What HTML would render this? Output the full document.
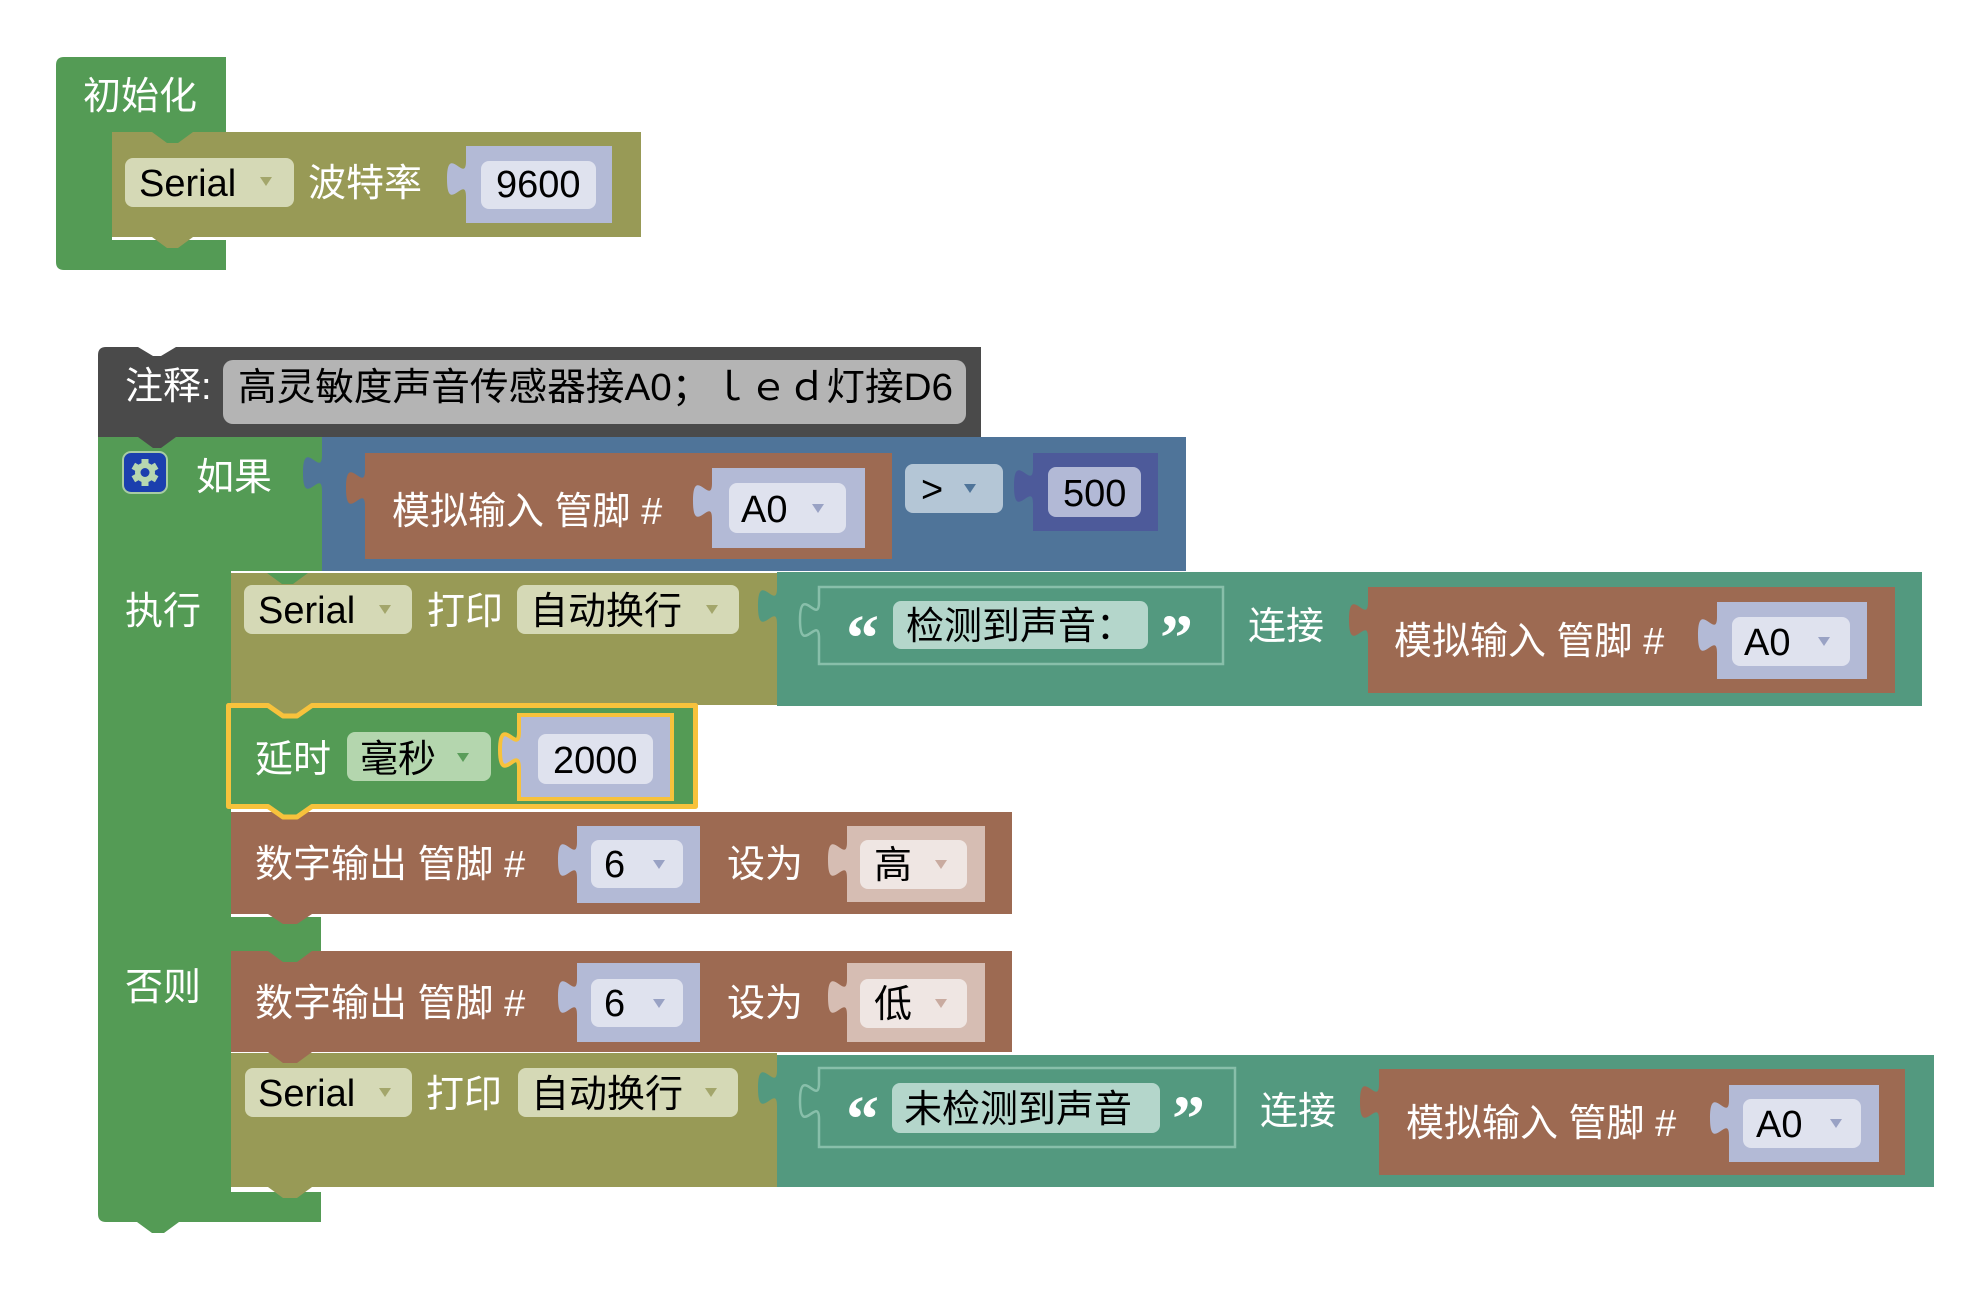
<!DOCTYPE html>
<html><head><meta charset="utf-8">
<style>
html,body{margin:0;padding:0;background:#fff;}
svg{display:block;}
text{font-family:"Liberation Sans","Noto Sans CJK SC",sans-serif;font-size:38px;}
.w{fill:#ffffff;}
.k{fill:#000000;}
.q{font-family:"Liberation Serif",serif;font-weight:bold;font-size:66px;fill:#ffffff;}
</style></head><body>
<svg width="1976" height="1312" viewBox="0 0 1976 1312" xmlns="http://www.w3.org/2000/svg">
<rect x="0" y="0" width="1976" height="1312" fill="#ffffff"/>

<!-- ============ INIT BLOCK ============ -->
<path d="M64,57 H226 V132 H112 V240 H226 V270 H64 Q56,270 56,262 V65 Q56,57 64,57 Z" fill="#549b55"/>
<rect x="112" y="132" width="529" height="105" fill="#989a56"/>
<polygon points="152,132 167,143 178,143 193,132" fill="#549b55"/>
<polygon points="152,237 167,248 178,248 193,237" fill="#989a56"/>
<text x="83" y="109" class="w">初始化</text>
<rect x="125" y="158" width="169" height="49" rx="8" fill="#d5d9b6"/>
<text x="139" y="196" class="k">Serial</text>
<polygon points="260,177 272,177 266,186" fill="#a3a66b"/>
<text x="308" y="196" class="w">波特率</text>
<path d="M466,146 V161 c0,24 -19,-19 -19,18 s19,-6 19,18 V223 H612 V146 Z" fill="#b3bad6"/>
<rect x="481" y="161" width="115" height="48" rx="8" fill="#dfe2ee"/>
<text x="496" y="197" class="k">9600</text>

<!-- ============ IF BLOCK (green) ============ -->
<path d="M98,437 H322 V571 H231 V917 H321 V951 H231 V1192 H321 V1222 H106 Q98,1222 98,1214 Z" fill="#549b55"/>
<polygon points="137,1222 152,1233 164,1233 179,1222" fill="#549b55"/>

<!-- ============ COMMENT ============ -->
<path d="M98,355 Q98,347 106,347 H138 L153,356 L161,356 L176,347 H981 V437 H98 Z" fill="#4a4a4a"/>
<polygon points="138,437 153,448 161,448 176,437" fill="#4a4a4a"/>
<text x="125" y="399" class="w">注释:</text>
<rect x="223" y="360" width="743" height="64" rx="10" fill="#b4b4b4"/>
<text x="238" y="400" class="k" textLength="715" lengthAdjust="spacingAndGlyphs">高灵敏度声音传感器接A0；ｌｅｄ灯接D6</text>

<!-- gear icon -->
<rect x="123" y="452" width="44" height="41" rx="8" fill="#1b3fae" stroke="#a8cca3" stroke-width="2"/>
<g fill="#b7d7b0">
  <circle cx="145" cy="472.5" r="10"/>
  <rect x="141.5" y="459" width="7" height="27"/>
  <rect x="141.5" y="459" width="7" height="27" transform="rotate(60 145 472.5)"/>
  <rect x="141.5" y="459" width="7" height="27" transform="rotate(120 145 472.5)"/>
</g>
<circle cx="145" cy="472.5" r="4.5" fill="#1b3fae"/>
<text x="196" y="490" class="w">如果</text>

<!-- condition (blue) -->
<path d="M322,437 V455 c0,24 -19,-19 -19,18 s19,-6 19,18 V571 H1186 V437 Z" fill="#4f7499"/>
<path d="M365,453 V470 c0,24 -19,-19 -19,18 s19,-6 19,18 V559 H892 V453 Z" fill="#9d6a52"/>
<text x="392" y="524" class="w">模拟输入 管脚 #</text>
<path d="M712,468 V483 c0,24 -19,-19 -19,18 s19,-6 19,18 V548 H865 V468 Z" fill="#b3bad6"/>
<rect x="729" y="483" width="117" height="50" rx="8" fill="#dfe2ee"/>
<text x="741" y="522" class="k">A0</text>
<polygon points="812,504 824,504 818,513" fill="#99a2c4"/>
<rect x="905" y="464" width="98" height="49" rx="8" fill="#b4c6d6"/>
<text x="921" y="502" class="k">&gt;</text>
<polygon points="964,484 976,484 970,493" fill="#4f7499"/>
<path d="M1033,453 V468 c0,24 -19,-19 -19,18 s19,-6 19,18 V531 H1158 V453 Z" fill="#4d5a9a"/>
<rect x="1048" y="467" width="93" height="50" rx="8" fill="#b2b9d6"/>
<text x="1063" y="506" class="k">500</text>

<!-- ============ EXECUTE ============ -->
<text x="125" y="624" class="w">执行</text>
<rect x="231" y="573" width="546" height="132" fill="#989a56"/>
<polygon points="267,573 282,584 293,584 308,573" fill="#549b55"/>
<rect x="244" y="585" width="168" height="49" rx="8" fill="#d5d9b6"/>
<text x="258" y="623" class="k">Serial</text>
<polygon points="379,605 391,605 385,614" fill="#a3a66b"/>
<text x="427" y="624" class="w">打印</text>
<rect x="517" y="585" width="222" height="49" rx="8" fill="#d5d9b6"/>
<text x="530" y="624" class="k">自动换行</text>
<polygon points="706,605 718,605 712,614" fill="#a3a66b"/>

<path d="M777,572 V588 c0,24 -19,-19 -19,18 s19,-6 19,18 V706 H1922 V572 Z" fill="#53997f"/>
<path d="M819,587 V602 c0,24 -19,-19 -19,18 s19,-6 19,18 V664 H1223 V587 Z" fill="#53997f" stroke="#88bfaa" stroke-width="2.5"/>
<text x="846" y="660" class="q">“</text>
<rect x="893" y="601" width="255" height="48" rx="8" fill="#b4d6cb"/>
<text x="906" y="639" class="k">检测到声音：</text>
<text x="1160" y="660" class="q">”</text>
<text x="1248" y="639" class="w">连接</text>
<path d="M1368,587 V602 c0,24 -19,-19 -19,18 s19,-6 19,18 V693 H1895 V587 Z" fill="#9d6a52"/>
<text x="1394" y="654" class="w">模拟输入 管脚 #</text>
<path d="M1717,602 V617 c0,24 -19,-19 -19,18 s19,-6 19,18 V679 H1867 V602 Z" fill="#b3bad6"/>
<rect x="1732" y="617" width="118" height="49" rx="8" fill="#dfe2ee"/>
<text x="1744" y="655" class="k">A0</text>
<polygon points="1818,637 1830,637 1824,646" fill="#99a2c4"/>

<!-- digital out 1 (drawn before delay so delay tab overlaps) -->
<rect x="231" y="812" width="781" height="102" fill="#9d6a52"/>
<polygon points="268,914 283,924 297,924 312,914" fill="#9d6a52"/>

<!-- delay (selected) -->
<polygon points="268,705 283,716 297,716 312,705" fill="#989a56"/>
<path d="M228.5,705.5 H268 L283,716 L297,716 L312,705.5 H695.5 V806.5 H312 L297,817 L283,817 L268,806.5 H228.5 Z" fill="#549b55" stroke="#f7c23c" stroke-width="5" stroke-linejoin="round"/>
<text x="255" y="772" class="w">延时</text>
<rect x="347" y="732" width="144" height="49" rx="8" fill="#b4d6ae"/>
<text x="360" y="772" class="k">毫秒</text>
<polygon points="457,753 469,753 463,762" fill="#5a9d5a"/>
<path d="M519,715 V732 c0,24 -19,-19 -19,18 s19,-6 19,18 V799 H672 V715 Z" fill="#b3bad6" stroke="#f7c23c" stroke-width="4"/>
<rect x="538" y="734" width="115" height="50" rx="8" fill="#dfe2ee"/>
<text x="553" y="773" class="k">2000</text>

<!-- digital out 1 content -->
<text x="255" y="877" class="w">数字输出 管脚 #</text>
<path d="M577,826 V842 c0,24 -19,-19 -19,18 s19,-6 19,18 V903 H700 V826 Z" fill="#b3bad6"/>
<rect x="591" y="840" width="92" height="48" rx="8" fill="#dfe2ee"/>
<text x="604" y="877" class="k">6</text>
<polygon points="653,860 665,860 659,869" fill="#99a2c4"/>
<text x="727" y="877" class="w">设为</text>
<path d="M847,826 V842 c0,24 -19,-19 -19,18 s19,-6 19,18 V902 H985 V826 Z" fill="#d6bdb3"/>
<rect x="860" y="840" width="107" height="49" rx="8" fill="#efe6e3"/>
<text x="874" y="878" class="k">高</text>
<polygon points="935,860 947,860 941,869" fill="#c9aba0"/>

<!-- ============ ELSE ============ -->
<text x="125" y="1000" class="w">否则</text>
<rect x="231" y="951" width="781" height="101" fill="#9d6a52"/>
<polygon points="268,951 283,962 297,962 312,951" fill="#549b55"/>
<text x="255" y="1016" class="w">数字输出 管脚 #</text>
<path d="M577,963 V979 c0,24 -19,-19 -19,18 s19,-6 19,18 V1042 H700 V963 Z" fill="#b3bad6"/>
<rect x="591" y="979" width="92" height="48" rx="8" fill="#dfe2ee"/>
<text x="604" y="1016" class="k">6</text>
<polygon points="653,999 665,999 659,1008" fill="#99a2c4"/>
<text x="727" y="1016" class="w">设为</text>
<path d="M847,963 V979 c0,24 -19,-19 -19,18 s19,-6 19,18 V1042 H985 V963 Z" fill="#d6bdb3"/>
<rect x="860" y="979" width="107" height="49" rx="8" fill="#efe6e3"/>
<text x="874" y="1017" class="k">低</text>
<polygon points="935,999 947,999 941,1008" fill="#c9aba0"/>

<!-- serial print 2 -->
<rect x="231" y="1053" width="546" height="134" fill="#989a56"/>
<polygon points="268,1052 283,1063 297,1063 312,1052" fill="#9d6a52"/>
<polygon points="268,1187 283,1198 297,1198 312,1187" fill="#989a56"/>
<rect x="245" y="1068" width="167" height="49" rx="8" fill="#d5d9b6"/>
<text x="258" y="1106" class="k">Serial</text>
<polygon points="379,1088 391,1088 385,1097" fill="#a3a66b"/>
<text x="426" y="1107" class="w">打印</text>
<rect x="518" y="1068" width="220" height="49" rx="8" fill="#d5d9b6"/>
<text x="531" y="1107" class="k">自动换行</text>
<polygon points="705,1088 717,1088 711,1097" fill="#a3a66b"/>

<path d="M777,1055 V1070 c0,24 -19,-19 -19,18 s19,-6 19,18 V1187 H1934 V1055 Z" fill="#53997f"/>
<path d="M819,1068 V1083 c0,24 -19,-19 -19,18 s19,-6 19,18 V1147 H1235 V1068 Z" fill="#53997f" stroke="#88bfaa" stroke-width="2.5"/>
<text x="846" y="1141" class="q">“</text>
<rect x="892" y="1083" width="268" height="50" rx="8" fill="#b4d6cb"/>
<text x="904" y="1122" class="k">未检测到声音</text>
<text x="1172" y="1141" class="q">”</text>
<text x="1260" y="1124" class="w">连接</text>
<path d="M1379,1069 V1084 c0,24 -19,-19 -19,18 s19,-6 19,18 V1175 H1905 V1069 Z" fill="#9d6a52"/>
<text x="1406" y="1136" class="w">模拟输入 管脚 #</text>
<path d="M1729,1085 V1100 c0,24 -19,-19 -19,18 s19,-6 19,18 V1162 H1879 V1085 Z" fill="#b3bad6"/>
<rect x="1743" y="1099" width="118" height="49" rx="8" fill="#dfe2ee"/>
<text x="1756" y="1137" class="k">A0</text>
<polygon points="1830,1119 1842,1119 1836,1128" fill="#99a2c4"/>
</svg>
</body></html>
